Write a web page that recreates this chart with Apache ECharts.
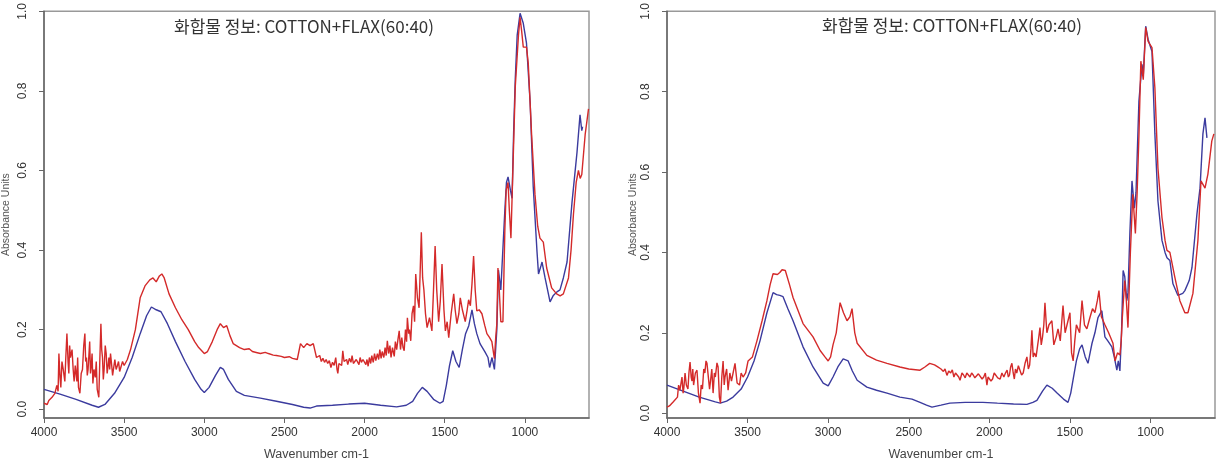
<!DOCTYPE html>
<html>
<head>
<meta charset="utf-8">
<script src="https://cdn.jsdelivr.net/npm/echarts@6/dist/echarts.min.js"></script>
<style>
html,body{margin:0;padding:0;background:#fff;}
#chart{width:1217px;height:467px;}
</style>
</head>
<body>
<div id="chart"></div>
<script>
// ---- text ----
const titleText = '화합물 정보: COTTON+FLAX(60:40)';
const xAxisTitle = 'Wavenumber cm-1';
const yAxisTitle = 'Absorbance Units';
const xTicks = [4000, 3500, 3000, 2500, 2000, 1500, 1000];
const yTicks = [0, 0.2, 0.4, 0.6, 0.8, 1.0];

// ---- left panel: [wavenumber, absorbance] ----
const leftBlue = [[4000,0.05],[3900,0.038],[3800,0.025],[3700,0.01],[3660,0.005],[3620,0.012],[3560,0.04],[3500,0.08],[3450,0.13],[3400,0.19],[3360,0.235],[3330,0.257],[3300,0.25],[3270,0.245],[3230,0.215],[3180,0.17],[3120,0.12],[3060,0.075],[3020,0.05],[3000,0.042],[2970,0.055],[2930,0.085],[2900,0.105],[2880,0.1],[2850,0.075],[2800,0.045],[2750,0.035],[2650,0.028],[2550,0.02],[2450,0.012],[2380,0.005],[2340,0.003],[2300,0.008],[2200,0.01],[2100,0.013],[2000,0.015],[1900,0.01],[1800,0.006],[1740,0.01],[1700,0.02],[1670,0.04],[1640,0.055],[1610,0.045],[1570,0.025],[1530,0.015],[1510,0.02],[1490,0.06],[1470,0.11],[1450,0.147],[1430,0.12],[1410,0.105],[1390,0.15],[1370,0.19],[1350,0.21],[1330,0.25],[1315,0.215],[1300,0.19],[1280,0.165],[1250,0.145],[1230,0.13],[1220,0.105],[1205,0.13],[1190,0.1],[1175,0.2],[1165,0.35],[1150,0.3],[1138,0.3],[1125,0.5],[1115,0.57],[1105,0.584],[1090,0.55],[1080,0.53],[1070,0.7],[1060,0.83],[1048,0.94],[1030,0.995],[1010,0.97],[990,0.92],[967,0.77],[948,0.56],[925,0.40],[915,0.34],[900,0.36],[893,0.37],[874,0.33],[843,0.27],[824,0.285],[800,0.295],[781,0.30],[760,0.33],[737,0.37],[706,0.52],[675,0.645],[656,0.74],[645,0.70],[640,0.71]];
const leftRed = [[4000,0.015],[3990,0.02],[3980,0.012],[3970,0.022],[3960,0.018],[3950,0.03],[3940,0.025],[3932,0.04],[3920,0.06],[3912,0.045],[3907,0.14],[3900,0.08],[3895,0.055],[3888,0.12],[3880,0.1],[3870,0.07],[3864,0.13],[3857,0.19],[3850,0.12],[3845,0.09],[3840,0.16],[3835,0.13],[3825,0.15],[3818,0.1],[3812,0.07],[3805,0.11],[3795,0.07],[3790,0.13],[3785,0.055],[3776,0.04],[3768,0.09],[3760,0.1],[3752,0.16],[3745,0.19],[3740,0.12],[3735,0.13],[3730,0.085],[3725,0.10],[3715,0.17],[3710,0.09],[3705,0.11],[3700,0.14],[3695,0.065],[3688,0.1],[3680,0.08],[3674,0.12],[3668,0.05],[3658,0.03],[3652,0.12],[3645,0.215],[3640,0.15],[3635,0.13],[3630,0.075],[3625,0.10],[3618,0.16],[3612,0.14],[3606,0.09],[3600,0.11],[3595,0.13],[3590,0.10],[3585,0.14],[3580,0.12],[3572,0.085],[3565,0.09],[3558,0.125],[3550,0.10],[3542,0.11],[3535,0.12],[3528,0.095],[3520,0.10],[3510,0.12],[3500,0.11],[3480,0.125],[3460,0.15],[3430,0.2],[3400,0.28],[3370,0.31],[3340,0.325],[3320,0.33],[3300,0.32],[3280,0.335],[3265,0.34],[3250,0.33],[3220,0.29],[3180,0.255],[3140,0.225],[3100,0.20],[3060,0.17],[3035,0.155],[3000,0.14],[2980,0.145],[2950,0.17],[2920,0.2],[2900,0.215],[2880,0.205],[2860,0.21],[2840,0.185],[2820,0.165],[2780,0.155],[2750,0.15],[2720,0.152],[2700,0.145],[2670,0.142],[2650,0.14],[2620,0.143],[2600,0.14],[2570,0.136],[2550,0.135],[2520,0.133],[2500,0.13],[2470,0.132],[2450,0.128],[2420,0.125],[2400,0.165],[2380,0.155],[2360,0.165],[2340,0.16],[2320,0.165],[2300,0.13],[2290,0.125],[2280,0.135],[2270,0.12],[2260,0.128],[2250,0.118],[2240,0.125],[2230,0.115],[2220,0.122],[2210,0.105],[2200,0.118],[2190,0.11],[2180,0.13],[2172,0.1],[2167,0.09],[2160,0.115],[2150,0.12],[2143,0.11],[2136,0.147],[2128,0.12],[2120,0.115],[2112,0.125],[2105,0.112],[2095,0.128],[2085,0.118],[2078,0.135],[2070,0.115],[2060,0.11],[2052,0.125],[2043,0.127],[2035,0.112],[2028,0.13],[2020,0.118],[2010,0.125],[2000,0.13],[1992,0.112],[1985,0.125],[1978,0.108],[1970,0.13],[1962,0.115],[1955,0.135],[1946,0.118],[1938,0.14],[1930,0.122],[1920,0.14],[1912,0.125],[1905,0.15],[1897,0.128],[1890,0.145],[1880,0.13],[1872,0.155],[1865,0.135],[1858,0.172],[1850,0.14],[1842,0.16],[1835,0.13],[1826,0.155],[1815,0.133],[1808,0.17],[1800,0.15],[1792,0.175],[1784,0.197],[1776,0.15],[1768,0.18],[1760,0.155],[1753,0.147],[1745,0.2],[1738,0.17],[1733,0.23],[1725,0.19],[1720,0.2],[1712,0.172],[1704,0.24],[1695,0.26],[1688,0.22],[1681,0.34],[1670,0.28],[1660,0.255],[1646,0.445],[1638,0.33],[1630,0.30],[1620,0.24],[1610,0.205],[1595,0.23],[1580,0.197],[1570,0.3],[1560,0.41],[1550,0.3],[1538,0.22],[1528,0.27],[1517,0.365],[1505,0.25],[1496,0.197],[1485,0.22],[1475,0.18],[1460,0.24],[1444,0.29],[1435,0.25],[1424,0.215],[1412,0.24],[1403,0.28],[1390,0.25],[1372,0.22],[1360,0.25],[1351,0.275],[1340,0.26],[1330,0.315],[1320,0.385],[1310,0.3],[1300,0.247],[1285,0.25],[1268,0.24],[1250,0.21],[1237,0.19],[1220,0.18],[1206,0.17],[1195,0.14],[1190,0.127],[1182,0.18],[1175,0.215],[1168,0.355],[1160,0.3],[1150,0.22],[1137,0.22],[1125,0.45],[1117,0.55],[1105,0.57],[1097,0.50],[1087,0.43],[1075,0.6],[1060,0.81],[1040,0.94],[1030,0.985],[1020,0.95],[1010,0.91],[990,0.91],[979,0.87],[958,0.69],[937,0.54],[920,0.46],[906,0.43],[885,0.42],[864,0.355],[833,0.305],[802,0.29],[780,0.285],[760,0.29],[728,0.33],[712,0.4],[697,0.49],[680,0.57],[666,0.60],[655,0.58],[645,0.59],[624,0.69],[603,0.755]];

// ---- right panel: [wavenumber, absorbance] ----
const rightBlue = [[4000,0.07],[3900,0.055],[3800,0.04],[3700,0.028],[3670,0.025],[3630,0.03],[3590,0.04],[3540,0.06],[3500,0.09],[3460,0.13],[3423,0.18],[3380,0.25],[3342,0.30],[3320,0.295],[3300,0.293],[3280,0.29],[3250,0.26],[3218,0.23],[3156,0.165],[3094,0.115],[3031,0.075],[3000,0.068],[2970,0.09],[2940,0.115],[2907,0.135],[2876,0.13],[2850,0.105],[2820,0.082],[2760,0.065],[2700,0.057],[2635,0.05],[2555,0.04],[2480,0.035],[2430,0.027],[2390,0.02],[2356,0.015],[2300,0.02],[2245,0.025],[2150,0.027],[2040,0.027],[1950,0.025],[1850,0.023],[1767,0.022],[1730,0.027],[1705,0.032],[1670,0.055],[1643,0.07],[1610,0.062],[1580,0.05],[1540,0.035],[1512,0.027],[1495,0.05],[1481,0.082],[1460,0.13],[1440,0.16],[1425,0.17],[1405,0.14],[1388,0.124],[1375,0.15],[1363,0.174],[1345,0.2],[1326,0.238],[1302,0.255],[1283,0.19],[1265,0.18],[1240,0.165],[1225,0.14],[1209,0.107],[1200,0.13],[1190,0.105],[1180,0.2],[1170,0.355],[1160,0.34],[1147,0.28],[1140,0.3],[1128,0.45],[1115,0.578],[1100,0.51],[1090,0.55],[1072,0.777],[1053,0.868],[1045,0.84],[1030,0.963],[1015,0.93],[991,0.90],[973,0.695],[954,0.528],[929,0.43],[910,0.40],[898,0.387],[880,0.38],[861,0.322],[830,0.293],[800,0.298],[787,0.305],[760,0.33],[743,0.362],[712,0.496],[693,0.56],[675,0.695],[662,0.735],[650,0.685]];
const rightRed = [[4000,0.015],[3985,0.018],[3975,0.02],[3962,0.028],[3950,0.032],[3935,0.04],[3928,0.07],[3920,0.057],[3907,0.09],[3900,0.05],[3895,0.065],[3888,0.1],[3880,0.07],[3870,0.06],[3864,0.1],[3857,0.127],[3850,0.09],[3845,0.08],[3840,0.11],[3835,0.07],[3824,0.1],[3814,0.107],[3805,0.05],[3795,0.025],[3788,0.07],[3780,0.06],[3772,0.11],[3765,0.1],[3758,0.13],[3752,0.124],[3742,0.12],[3736,0.06],[3730,0.08],[3722,0.11],[3714,0.05],[3706,0.1],[3700,0.09],[3690,0.125],[3683,0.115],[3675,0.04],[3668,0.025],[3660,0.09],[3652,0.13],[3645,0.07],[3640,0.09],[3630,0.11],[3621,0.057],[3610,0.1],[3600,0.08],[3590,0.1],[3578,0.124],[3565,0.075],[3550,0.07],[3540,0.1],[3528,0.09],[3512,0.1],[3497,0.13],[3470,0.14],[3442,0.18],[3410,0.23],[3380,0.28],[3360,0.32],[3342,0.347],[3315,0.345],[3300,0.35],[3286,0.357],[3266,0.355],[3240,0.32],[3218,0.288],[3156,0.223],[3094,0.19],[3050,0.156],[3020,0.14],[3000,0.13],[2985,0.14],[2970,0.17],[2950,0.2],[2926,0.275],[2905,0.25],[2883,0.23],[2865,0.24],[2852,0.26],[2835,0.2],[2820,0.174],[2760,0.144],[2700,0.132],[2635,0.124],[2555,0.115],[2500,0.11],[2430,0.107],[2400,0.115],[2370,0.124],[2340,0.12],[2320,0.115],[2300,0.11],[2285,0.104],[2275,0.11],[2263,0.094],[2252,0.105],[2240,0.1],[2230,0.108],[2220,0.09],[2210,0.1],[2200,0.098],[2190,0.09],[2182,0.082],[2170,0.1],[2160,0.095],[2150,0.088],[2140,0.1],[2130,0.095],[2120,0.09],[2110,0.1],[2100,0.095],[2090,0.088],[2080,0.085],[2068,0.098],[2057,0.1],[2045,0.085],[2035,0.09],[2025,0.1],[2015,0.07],[2008,0.09],[2000,0.094],[1990,0.08],[1980,0.085],[1970,0.1],[1960,0.098],[1948,0.088],[1933,0.085],[1922,0.1],[1910,0.09],[1900,0.1],[1890,0.107],[1882,0.09],[1875,0.095],[1868,0.115],[1860,0.124],[1852,0.1],[1845,0.085],[1838,0.11],[1830,0.1],[1820,0.118],[1810,0.115],[1800,0.095],[1790,0.1],[1778,0.125],[1767,0.14],[1758,0.11],[1750,0.12],[1742,0.16],[1736,0.206],[1728,0.14],[1720,0.15],[1710,0.14],[1700,0.17],[1693,0.19],[1686,0.213],[1678,0.17],[1670,0.19],[1662,0.22],[1655,0.275],[1648,0.23],[1643,0.2],[1630,0.22],[1612,0.23],[1600,0.17],[1585,0.19],[1574,0.21],[1560,0.18],[1543,0.268],[1530,0.2],[1518,0.22],[1500,0.25],[1490,0.15],[1480,0.13],[1470,0.18],[1460,0.22],[1440,0.2],[1425,0.28],[1410,0.22],[1395,0.21],[1376,0.238],[1360,0.26],[1345,0.25],[1330,0.28],[1320,0.305],[1305,0.24],[1283,0.22],[1260,0.2],[1233,0.174],[1220,0.13],[1205,0.15],[1190,0.145],[1182,0.18],[1175,0.238],[1160,0.33],[1150,0.28],[1140,0.213],[1125,0.4],[1110,0.545],[1094,0.447],[1083,0.55],[1072,0.69],[1060,0.876],[1045,0.83],[1030,0.96],[1015,0.925],[991,0.91],[973,0.81],[954,0.61],[929,0.487],[910,0.43],[898,0.405],[880,0.40],[849,0.338],[818,0.28],[787,0.25],[768,0.25],[737,0.298],[706,0.43],[687,0.578],[662,0.56],[644,0.595],[620,0.677],[607,0.695]];

const BLUE = '#3b3b9e';
const RED = '#d42a2a';
const labelFont = "'Liberation Sans', Arial, sans-serif";
const krFont = "'Noto Sans CJK KR', 'Noto Sans', sans-serif";

function xAxisFor(gi) {
  return {
    gridIndex: gi, type: 'value', min: 600, max: 4000, inverse: true,
    name: xAxisTitle, nameLocation: 'middle', nameGap: 30,
    nameTextStyle: { fontFamily: labelFont, fontSize: 12.5, color: '#444' },
    axisLine: { onZero: false, lineStyle: { color: '#666', width: 1.5 } },
    axisTick: { show: true, length: 5, customValues: xTicks, lineStyle: { color: '#666' } },
    axisLabel: { customValues: xTicks, margin: 9, fontFamily: labelFont, fontSize: 12, color: '#333',
      formatter: v => String(v) },
    splitLine: { show: false }
  };
}
function yAxisFor(gi, ymin, gap, lmargin) {
  return {
    gridIndex: gi, type: 'value', min: ymin, max: 1.0,
    name: yAxisTitle, nameLocation: 'middle', nameGap: gap, nameRotate: 90,
    nameTextStyle: { fontFamily: labelFont, fontSize: 10.5, color: '#555' },
    axisLine: { onZero: false, lineStyle: { color: '#666', width: 1.5 } },
    axisTick: { show: true, length: 5, customValues: yTicks, lineStyle: { color: '#666' } },
    axisLabel: { customValues: yTicks, rotate: 90, margin: lmargin, fontFamily: labelFont, fontSize: 12, color: '#333',
      formatter: v => v.toFixed(1) },
    splitLine: { show: false }
  };
}
function line(data, color, xi, z) {
  return { type: 'line', xAxisIndex: xi, yAxisIndex: xi, data: data, showSymbol: false, symbol: 'none',
    lineStyle: { color: color, width: 1.4 }, z: z, animation: false };
}

const chart = echarts.init(document.getElementById('chart'), null, { renderer: 'canvas' });
chart.setOption({
  backgroundColor: '#fff',
  animation: false,
  grid: [
    { left: 42, top: 8, width: 547, height: 410, show: true, borderColor: '#999', borderWidth: 1.5, backgroundColor: 'transparent' },
    { left: 667, top: 10, width: 548, height: 408, show: true, borderColor: '#999', borderWidth: 1.5, backgroundColor: 'transparent' }
  ],
  xAxis: [xAxisFor(0), xAxisFor(1)],
  yAxis: [yAxisFor(0, -0.022, 32, 15), yAxisFor(1, -0.012, 28, 15)],
  graphic: [
    { type: 'text', x: 304, y: 27, style: { text: titleText, textAlign: 'center', textVerticalAlign: 'middle', font: "17px " + krFont, fill: '#333' } },
    { type: 'text', x: 952, y: 26, style: { text: titleText, textAlign: 'center', textVerticalAlign: 'middle', font: "17px " + krFont, fill: '#333' } }
  ],
  series: [
    line(leftBlue, BLUE, 0, 2),
    line(leftRed, RED, 0, 3),
    line(rightBlue, BLUE, 1, 2),
    line(rightRed, RED, 1, 3)
  ]
});
</script>
</body>
</html>
